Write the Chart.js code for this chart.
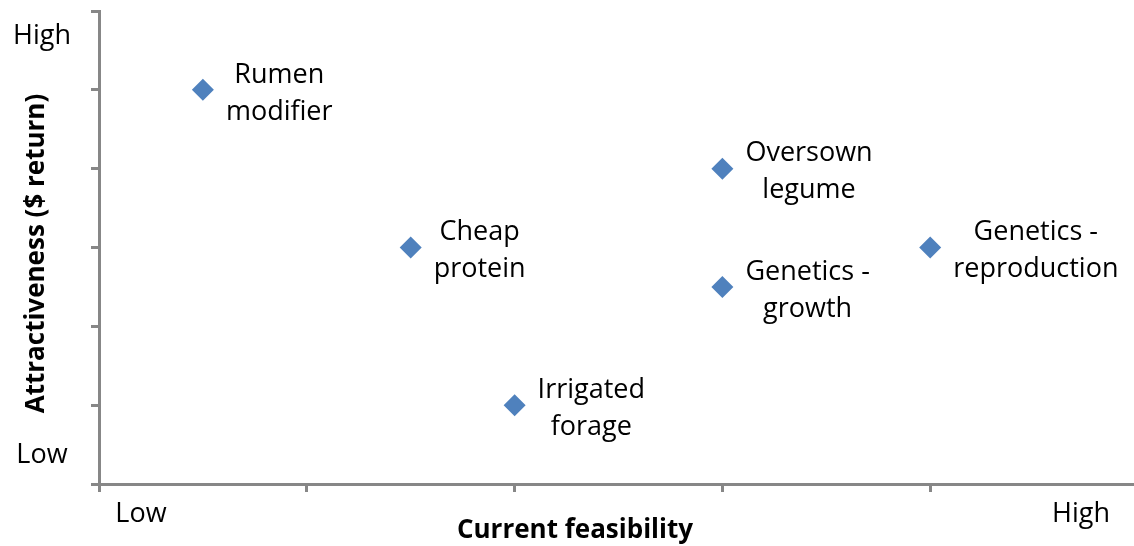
<!DOCTYPE html>
<html>
<head>
<meta charset="utf-8">
<script src="https://cdn.jsdelivr.net/npm/chart.js@4/dist/chart.umd.min.js"></script>
<style>
  html, body { margin: 0; padding: 0; background: #fff; overflow: hidden; }
  #wrap { width: 1149px; height: 546px; }
</style>
</head>
<body>
<div id="wrap"><canvas id="matrix"></canvas></div>
<script>
// options plotted on feasibility (x) vs attractiveness (y)
const optionNames = [
    ['Rumen', 'modifier'],
    ['Cheap', 'protein'],
    ['Irrigated', 'forage'],
    ['Oversown', 'legume'],
    ['Genetics -', 'growth'],
    ['Genetics -', 'reproduction']
];
const feasibility = [0.5, 1.5, 2, 3, 3, 4];
const attractiveness = [5, 3, 1, 4, 2.5, 3];

const xEndLabels = ['Low', 'High'];
const yEndLabels = ['Low', 'High'];
const xTitle = 'Current feasibility';
const yTitle = 'Attractiveness ($ return)';

const FONT = '"Open Sans", Lato, sans-serif';
const AXIS_GREY = '#878787';

// draws point labels, the Low/High end labels and the axis titles
const textPlugin = {
    id: 'matrixText',
    afterDatasetsDraw(chart) {
        const ctx = chart.ctx;
        const area = chart.chartArea;
        const meta = chart.getDatasetMeta(0);
        ctx.save();
        ctx.fillStyle = '#000';
        ctx.textBaseline = 'middle';
        ctx.textAlign = 'center';
        ctx.font = '27px ' + FONT;

        meta.data.forEach((pt, i) => {
            const lines = optionNames[i];
            const w = Math.max(...lines.map(l => ctx.measureText(l).width));
            const cx = pt.x + 23 + w / 2;
            ctx.fillText(lines[0], cx, pt.y - 15);
            ctx.fillText(lines[1], cx, pt.y + 22);
        });

        ctx.fillText(yEndLabels[1], area.left - 57, area.top + 25);
        ctx.fillText(yEndLabels[0], area.left - 57, area.bottom - 29);
        ctx.fillText(xEndLabels[0], area.left + 42, area.bottom + 30);
        ctx.fillText(xEndLabels[1], area.right - 57, area.bottom + 30);

        ctx.font = 'bold 26px ' + FONT;
        ctx.fillText(xTitle, 575, area.bottom + 47);
        ctx.translate(37, (area.top + area.bottom) / 2 + 6);
        ctx.rotate(-Math.PI / 2);
        ctx.fillText(yTitle, 0, 0);
        ctx.restore();
    }
};

const axisStyle = {
    border: { display: true, color: AXIS_GREY, width: 3 },
    grid: { drawOnChartArea: false, drawTicks: true, tickLength: 8, color: AXIS_GREY, lineWidth: 3 },
    ticks: { display: false, stepSize: 1 }
};

new Chart(document.getElementById('matrix'), {
    type: 'scatter',
    data: {
        datasets: [{
            data: feasibility.map((x, i) => ({ x: x, y: attractiveness[i] })),
            pointStyle: 'rectRot',
            pointRadius: 11,
            pointHoverRadius: 11,
            backgroundColor: '#4F81BD',
            borderColor: '#4F81BD',
            borderWidth: 0
        }]
    },
    options: {
        responsive: true,
        maintainAspectRatio: false,
        animation: false,
        layout: { padding: { left: 91, top: 10, right: 2, bottom: 54 } },
        scales: {
            x: Object.assign({ type: 'linear', min: 0, max: 5 }, axisStyle),
            y: Object.assign({ type: 'linear', min: 0, max: 6 }, axisStyle)
        },
        plugins: { legend: { display: false }, tooltip: { enabled: false } }
    },
    plugins: [textPlugin]
});
</script>
</body>
</html>
